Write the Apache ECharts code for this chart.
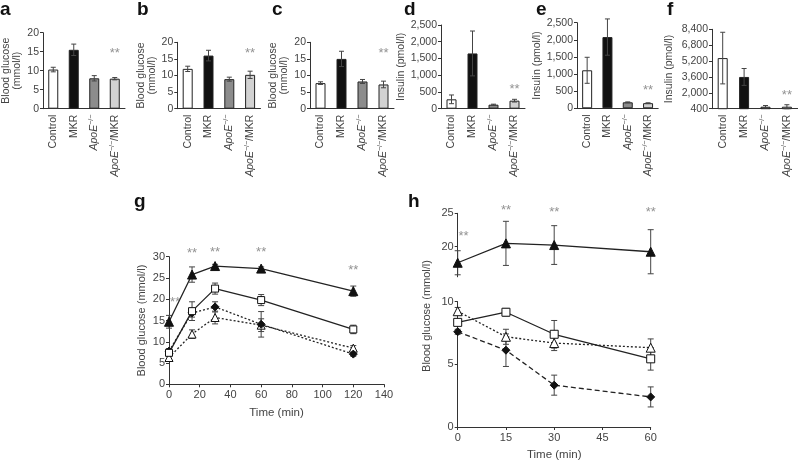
<!DOCTYPE html>
<html><head><meta charset="utf-8">
<script src="https://cdn.jsdelivr.net/npm/echarts@6/dist/echarts.min.js"></script>
<style>html,body{margin:0;padding:0;background:#fff}#c{width:800px;height:462px}</style>
</head><body><div id="c"></div>
<script>
// ---------- data ----------
const categories = ['Control', 'MKR', 'ApoE', 'ApoE/MKR'];
const barColors = ['#ffffff', '#111111', '#8c8c8c', '#d2d2d2'];

const glucoseA = [10.3, 15.5, 8.0, 7.9];
const glucoseAErr = [0.6, 1.5, 0.7, 0.3];
const glucoseB = [12.0, 16.0, 8.9, 10.2];
const glucoseBErr = [0.8, 1.6, 0.6, 1.1];
const glucoseC = [7.7, 15.0, 8.2, 7.3];
const glucoseCErr = [0.4, 2.3, 0.6, 1.0];
const insulinD = [280, 1650, 120, 240];
const insulinDErr = [130, 670, 15, 40];
const insulinE = [1110, 2080, 175, 150];
const insulinEErr = [380, 530, 12, 12];
const insulinF = [5500, 3600, 600, 600];
const insulinFErr = [2600, 850, 120, 200];
const starA = 14.6, starB = 16.8, starC = 16.8, starD = 580, starE = 520, starF = 1710;

const gTimes = [0, 15, 30, 60, 120];
const gMKR = [14.7, 25.8, 27.8, 27.2, 21.9];
const gMKRErr = [1.5, 1.8, 0.4, 0.4, 1.2];
const gControl = [7.4, 17.2, 22.5, 19.8, 12.9];
const gControlErr = [0.8, 2.2, 1.3, 1.3, 1.0];
const gApoE = [7.8, 16.8, 18.2, 14.1, 7.1];
const gApoEErr = [0.6, 1.0, 1.2, 3.0, 0.5];
const gApoEMKR = [6.3, 11.8, 15.7, 13.9, 8.5];
const gApoEMKRErr = [0.7, 1.0, 1.5, 1.5, 0.6];
const gStars = [[4, 19.2], [15, 30.8], [30, 31.1], [60, 31.1], [120, 26.7]];

const hTimes = [0, 15, 30, 60];
const hMKR = [17.6, 20.5, 20.25, 19.25];
const hMKRErr = [1.8, 3.3, 2.9, 3.3];
const hControl = [8.35, 9.16, 7.4, 5.44];
const hControlErr = [0.2, 0.3, 1.1, 0.9];
const hApoEMKR = [9.24, 7.2, 6.7, 6.33];
const hApoEMKRErr = [0.3, 0.6, 0.6, 0.7];
const hApoE = [7.6, 6.13, 3.34, 2.4];
const hApoEErr = [0.2, 1.3, 0.8, 0.8];
const hStars = [[1.8, 21.5], [15, 25.5], [30, 25.15], [60, 25.15]];

// ---------- styles ----------
const FONT = 'Liberation Sans';
const TXT = '#444';
const AX = '#333';

function catLabel(v) {
  if (v === 'ApoE') return '{i|ApoE}{s|−/−}';
  if (v === 'ApoE/MKR') return '{i|ApoE}{s|−/−}/MKR';
  return v;
}
const richLab = {
  i: { fontStyle: 'italic', fontSize: 10.5, fontFamily: FONT, color: TXT },
  s: { fontSize: 7, fontFamily: FONT, color: TXT, verticalAlign: 'top', padding: [0, 0, 6, 0] }
};
function fmtComma(v) { return v.toLocaleString('en-US'); }

const gridDefs = [
  { left: 40, top: 32.7, width: 85, height: 76 },
  { left: 177.3, top: 42.3, width: 83.2, height: 66.4 },
  { left: 310, top: 42.3, width: 84, height: 66.4 },
  { left: 441, top: 25, width: 84, height: 83.7 },
  { left: 577, top: 22.7, width: 81.2, height: 85.6 },
  { left: 712, top: 29.3, width: 85.6, height: 79.4 },
  { left: 169, top: 256.7, width: 215, height: 127.6 },
  { left: 457.7, top: 213.3, width: 193, height: 63.5 },
  { left: 457.7, top: 301.7, width: 193, height: 131.6 }
];

const barPanels = [
  { vals: glucoseA, err: glucoseAErr, star: starA, min: 0, max: 20, interval: 5, name: 'Blood glucose\n(mmol/l)', gap: 20 },
  { vals: glucoseB, err: glucoseBErr, star: starB, min: 0, max: 20, interval: 5, name: 'Blood glucose\n(mmol/l)', gap: 20 },
  { vals: glucoseC, err: glucoseCErr, star: starC, min: 0, max: 20, interval: 5, name: 'Blood glucose\n(mmol/l)', gap: 20 },
  { vals: insulinD, err: insulinDErr, star: starD, min: 0, max: 2500, interval: 500, name: 'Insulin (pmol/l)', gap: 26 },
  { vals: insulinE, err: insulinEErr, star: starE, min: 0, max: 2500, interval: 500, name: 'Insulin (pmol/l)', gap: 31 },
  { vals: insulinF, err: insulinFErr, star: starF, min: 400, max: 8400, interval: 1600, name: 'Insulin (pmol/l)', gap: 37 }
];

const axisLineStyle = { show: true, lineStyle: { color: AX, width: 1 } };
const tickStyle = { show: true, length: 3, lineStyle: { color: AX } };
const labelStyle = { fontFamily: FONT, fontSize: 10.5, color: TXT };

const xAxes = [], yAxes = [], series = [];

function errRender(capHalf) {
  return function (params, api) {
    const x = api.value(0), v = api.value(1), e = api.value(2);
    const top = api.coord([x, v + e]);
    const bot = api.coord([x, v - e]);
    const st = { stroke: '#444', lineWidth: 1 };
    return {
      type: 'group', children: [
        { type: 'line', shape: { x1: top[0], y1: top[1], x2: bot[0], y2: bot[1] }, style: st },
        { type: 'line', shape: { x1: top[0] - capHalf, y1: top[1], x2: top[0] + capHalf, y2: top[1] }, style: st },
        { type: 'line', shape: { x1: bot[0] - capHalf, y1: bot[1], x2: bot[0] + capHalf, y2: bot[1] }, style: st }
      ]
    };
  };
}

function starSeries(ax, data) {
  return {
    type: 'scatter', xAxisIndex: ax, yAxisIndex: ax, data: data, symbolSize: 0, clip: false,
    silent: true, z: 5,
    label: { show: true, position: 'inside', formatter: '**', fontFamily: FONT, fontSize: 13, color: '#777' }
  };
}

barPanels.forEach((p, i) => {
  xAxes.push({
    type: 'category', gridIndex: i, data: categories,
    axisLine: axisLineStyle, axisTick: { show: false },
    axisLabel: Object.assign({}, labelStyle, { rotate: 90, interval: 0, margin: 6, formatter: catLabel, rich: richLab })
  });
  yAxes.push({
    type: 'value', gridIndex: i, min: p.min, max: p.max, interval: p.interval,
    splitLine: { show: false }, axisLine: axisLineStyle, axisTick: tickStyle,
    axisLabel: Object.assign({}, labelStyle, { margin: 4, formatter: fmtComma }),
    name: p.name, nameLocation: 'middle', nameRotate: 90, nameGap: p.gap,
    nameTextStyle: { fontFamily: FONT, fontSize: 10.5, color: TXT, lineHeight: 11 }
  });
  series.push({
    type: 'bar', xAxisIndex: i, yAxisIndex: i, barWidth: 10,
    data: p.vals.map((v, k) => ({ value: v, itemStyle: { color: barColors[k] } })),
    itemStyle: { borderColor: '#222', borderWidth: 1 }, clip: true, z: 2
  });
  series.push({
    type: 'custom', xAxisIndex: i, yAxisIndex: i, z: 3, silent: true,
    data: p.vals.map((v, k) => [k, v, p.err[k]]),
    renderItem: errRender(2.5)
  });
  series.push(starSeries(i, [[3, p.star]]));
});

// panel g
xAxes.push({
  type: 'value', gridIndex: 6, min: 0, max: 140, interval: 20,
  splitLine: { show: false }, axisLine: axisLineStyle, axisTick: tickStyle,
  axisLabel: Object.assign({}, labelStyle, { margin: 5, fontSize: 11 }),
  name: 'Time (min)', nameLocation: 'middle', nameGap: 23,
  nameTextStyle: { fontFamily: FONT, fontSize: 11.5, color: TXT }
});
yAxes.push({
  type: 'value', gridIndex: 6, min: 0, max: 30, interval: 5,
  splitLine: { show: false }, axisLine: axisLineStyle, axisTick: tickStyle,
  axisLabel: Object.assign({}, labelStyle, { margin: 4, fontSize: 11 }),
  name: 'Blood glucose (mmol/l)', nameLocation: 'middle', nameRotate: 90, nameGap: 22,
  nameTextStyle: { fontFamily: FONT, fontSize: 11, color: TXT }
});
// panel h upper
xAxes.push({
  type: 'value', gridIndex: 7, min: 0, max: 60, show: false
});
yAxes.push({
  type: 'value', gridIndex: 7, min: 15.5, max: 25,
  splitLine: { show: false }, axisLine: axisLineStyle,
  axisTick: { show: true, length: 3, lineStyle: { color: AX }, customValues: [20, 25] },
  axisLabel: Object.assign({}, labelStyle, { margin: 4, fontSize: 11, customValues: [20, 25] })
});
// panel h lower
xAxes.push({
  type: 'value', gridIndex: 8, min: 0, max: 60, interval: 15,
  splitLine: { show: false }, axisLine: axisLineStyle, axisTick: tickStyle,
  axisLabel: Object.assign({}, labelStyle, { margin: 5, fontSize: 11 }),
  name: 'Time (min)', nameLocation: 'middle', nameGap: 22,
  nameTextStyle: { fontFamily: FONT, fontSize: 11.5, color: TXT }
});
yAxes.push({
  type: 'value', gridIndex: 8, min: 0, max: 10, interval: 5,
  splitLine: { show: false }, axisLine: axisLineStyle, axisTick: tickStyle,
  axisLabel: Object.assign({}, labelStyle, { margin: 4, fontSize: 11 })
});

function lineSeries(ax, times, vals, err, symbol, fill, lineType, size) {
  series.push({
    type: 'line', xAxisIndex: ax, yAxisIndex: ax, data: times.map((t, k) => [t, vals[k]]),
    symbol: symbol, symbolSize: size, showSymbol: true, z: 4,
    lineStyle: { color: '#222', width: 1.3, type: lineType },
    itemStyle: { color: fill, borderColor: '#111', borderWidth: 1 }
  });
  series.push({
    type: 'custom', xAxisIndex: ax, yAxisIndex: ax, z: 3, silent: true,
    data: times.map((t, k) => [t, vals[k], err[k]]),
    renderItem: errRender(3)
  });
}

lineSeries(6, gTimes, gApoEMKR, gApoEMKRErr, 'triangle', '#fff', [2, 2], 8);
lineSeries(6, gTimes, gApoE, gApoEErr, 'diamond', '#111', [2, 2], 8);
lineSeries(6, gTimes, gControl, gControlErr, 'rect', '#fff', 'solid', 7);
lineSeries(6, gTimes, gMKR, gMKRErr, 'triangle', '#111', 'solid', 9);
series.push(starSeries(6, gStars));

lineSeries(7, hTimes, hMKR, hMKRErr, 'triangle', '#111', 'solid', 9);
series.push(starSeries(7, hStars));
lineSeries(8, hTimes, hApoEMKR, hApoEMKRErr, 'triangle', '#fff', [2, 2], 9);
lineSeries(8, hTimes, hApoE, hApoEErr, 'diamond', '#111', [5, 3], 8);
lineSeries(8, hTimes, hControl, hControlErr, 'rect', '#fff', 'solid', 8);

const letters = [['a', 0, 0], ['b', 137, 0], ['c', 272, 0], ['d', 404, 0], ['e', 536, 0], ['f', 667, 0], ['g', 134, 192], ['h', 408, 192]];
const graphics = letters.map(l => ({
  type: 'text', left: l[1], top: l[2],
  style: { text: l[0], font: 'bold 19px "Liberation Sans"', fill: '#111' }
}));
graphics.push({
  type: 'text', x: 427, y: 316, rotation: Math.PI / 2,
  style: { text: 'Blood glucose (mmol/l)', font: '11px "Liberation Sans"', fill: TXT, align: 'center', verticalAlign: 'middle' }
});

const chart = echarts.init(document.getElementById('c'), null, { renderer: 'canvas' });
chart.setOption({
  animation: false,
  backgroundColor: '#fff',
  grid: gridDefs.map(g => Object.assign({ containLabel: false }, g)),
  xAxis: xAxes, yAxis: yAxes, series: series, graphic: graphics
});
</script></body></html>
